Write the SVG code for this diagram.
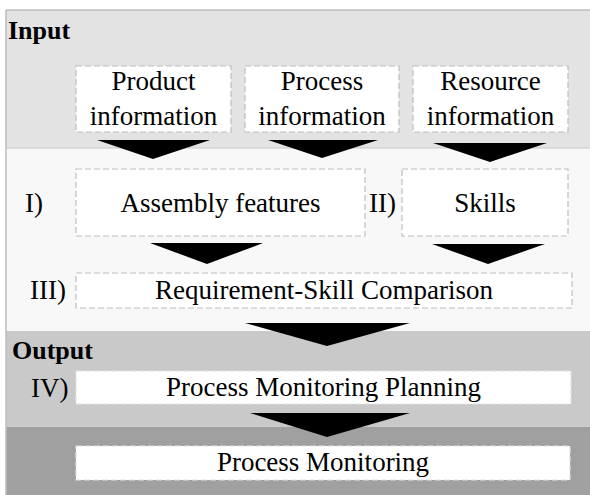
<svg xmlns="http://www.w3.org/2000/svg" width="590" height="495" viewBox="0 0 590 495">
<style>
  .t{font-size:27px;fill:#000}
  .b{font-size:26px;font-weight:bold;fill:#000}
  .box{fill:#fff;stroke:#bdbdbd;stroke-width:1.2;stroke-dasharray:6 3}
  .boxw{fill:#fff;stroke:#e2e2e2;stroke-width:1.2;stroke-dasharray:6 3}
  .arr{fill:#000}
</style>
<g font-family="Liberation Serif, DejaVu Serif, serif">
<g id="bands">
  <rect x="6" y="10" width="590" height="138" fill="#e3e3e3"/>
  <rect x="6" y="148" width="590" height="183" fill="#f8f8f8"/>
  <rect x="6" y="331" width="590" height="96" fill="#c9c9c9"/>
  <rect x="6" y="427" width="590" height="70" fill="#a0a0a0"/>
  <line x1="6" y1="10" x2="590" y2="10" stroke="#bdbdbd" stroke-width="1.5"/>
  <line x1="6" y1="10" x2="6" y2="495" stroke="#bdbdbd" stroke-width="1.5"/>
  <line x1="6" y1="148" x2="590" y2="148" stroke="#c8c8c8" stroke-width="1"/>
  <text class="b" x="8" y="39">Input</text>
  <text class="b" x="12" y="359">Output</text>
</g>
<g id="product">
  <rect class="box" x="76" y="66" width="155" height="66"/>
  <text class="t" x="153.5" y="90" text-anchor="middle">Product</text>
  <text class="t" x="153.5" y="125" text-anchor="middle">information</text>
</g>
<g id="process">
  <rect class="box" x="245" y="66" width="154" height="66"/>
  <text class="t" x="322" y="90" text-anchor="middle">Process</text>
  <text class="t" x="322" y="125" text-anchor="middle">information</text>
</g>
<g id="resource">
  <rect class="box" x="413" y="66" width="155" height="66"/>
  <text class="t" x="490.5" y="90" text-anchor="middle">Resource</text>
  <text class="t" x="490.5" y="125" text-anchor="middle">information</text>
</g>
<g id="assembly">
  <text class="t" x="25" y="212">I)</text>
  <rect class="box" x="76" y="169" width="289" height="67"/>
  <text class="t" x="220.5" y="212" text-anchor="middle">Assembly features</text>
</g>
<g id="skills">
  <text class="t" x="369" y="212">II)</text>
  <rect class="box" x="402" y="169" width="166" height="67"/>
  <text class="t" x="485" y="212" text-anchor="middle">Skills</text>
</g>
<g id="comparison">
  <text class="t" x="30" y="299">III)</text>
  <rect class="box" x="76" y="273" width="496" height="35"/>
  <text class="t" x="324" y="299" text-anchor="middle">Requirement-Skill Comparison</text>
</g>
<g id="planning">
  <text class="t" x="31" y="397">IV)</text>
  <rect class="boxw" x="76" y="371" width="495" height="33"/>
  <text class="t" x="323.5" y="396" text-anchor="middle">Process Monitoring Planning</text>
</g>
<g id="monitoring">
  <rect class="boxw" x="76" y="446" width="494" height="34"/>
  <text class="t" x="323" y="471" text-anchor="middle">Process Monitoring</text>
</g>
</g>
<g id="connectors">
  <polygon class="arr" points="97,140 210,140 153,159"/>
  <polygon class="arr" points="268,140 378,140 322,158"/>
  <polygon class="arr" points="433,143 547,143 490,162"/>
  <polygon class="arr" points="150,243 263,243 207,264"/>
  <polygon class="arr" points="432,244 545,244 488,264"/>
  <polygon class="arr" points="245,323 410,323 327,346"/>
  <polygon class="arr" points="250,413 410,413 327,437"/>
</g>
</svg>
